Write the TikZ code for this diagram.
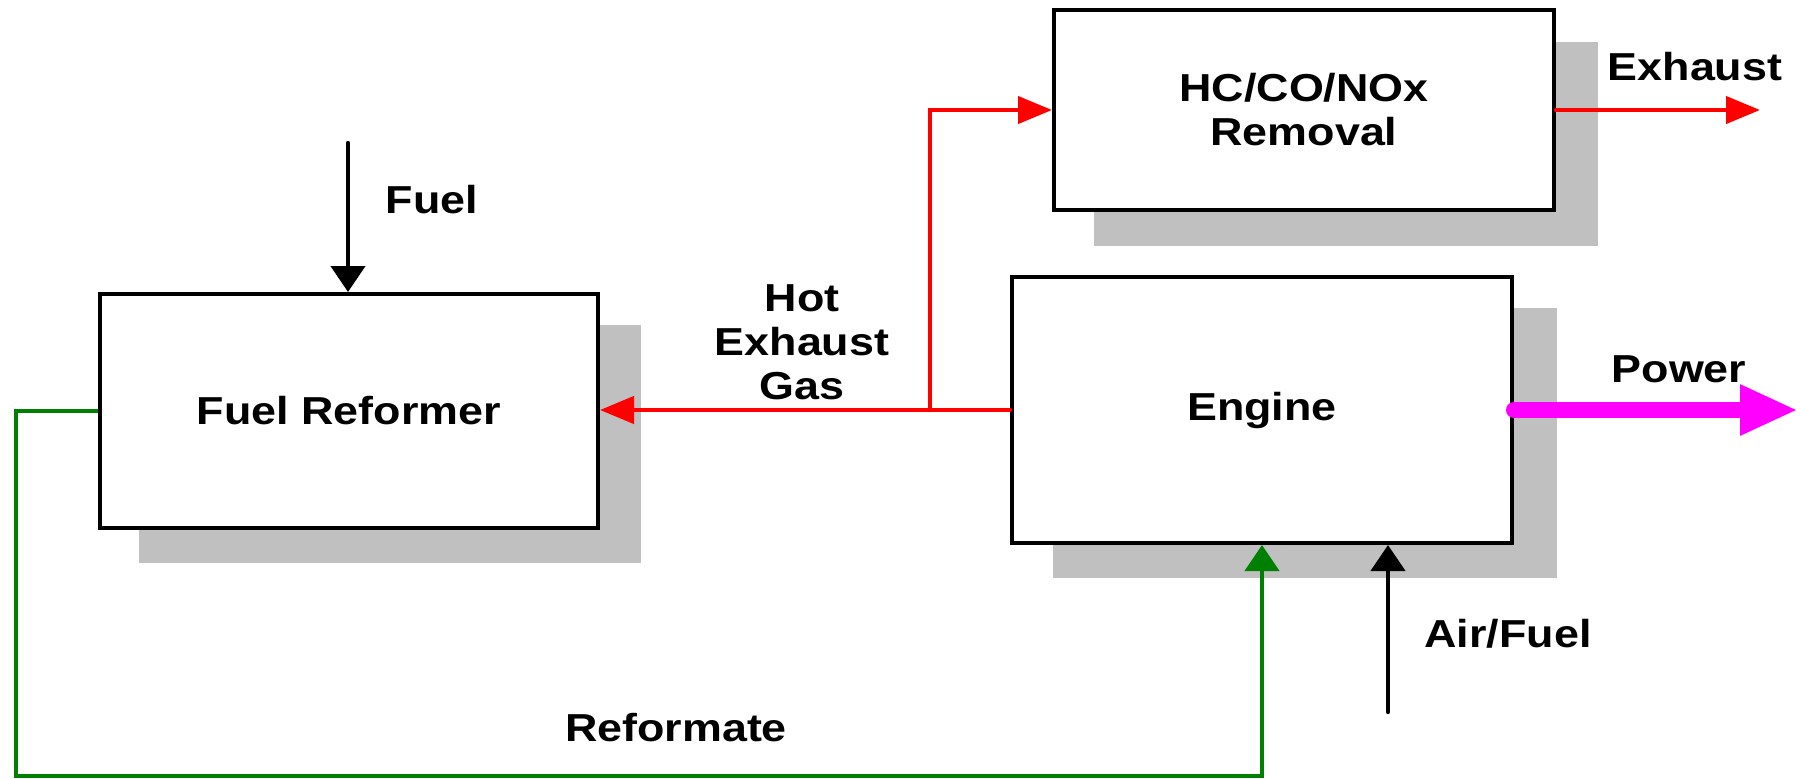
\documentclass[tikz,border=0pt]{standalone}
\usepackage{fontspec}
\setmainfont{Liberation Sans}[FakeStretch=1.15]
\usetikzlibrary{arrows.meta,backgrounds,calc}
\definecolor{shadowgray}{HTML}{C0C0C0}
\definecolor{flowred}{HTML}{FF0000}
\definecolor{flowgreen}{HTML}{008000}
\definecolor{flowmag}{HTML}{FF00FF}
\begin{document}
\begin{tikzpicture}[x=0.5pt,y=-0.5pt,
  font=\fontsize{19.5pt}{22pt}\selectfont\bfseries,
  block/.style={draw=black,line width=2pt,fill=white,inner sep=0pt,align=center},
  lbl/.style={inner sep=0pt,align=center},
  hflow/.style={line width=2.2pt,line cap=round,-{Triangle[length=17pt,width=13.5pt]}},
  vflow/.style={line width=2.2pt,line cap=round,-{Triangle[length=13pt,width=17pt]}}]
\useasboundingbox (0,0) rectangle (1800,778);

% blocks
\node[block,minimum width=249pt,minimum height=117pt] (fr) at (349,411) {Fuel Reformer};
\node[block,minimum width=250pt,minimum height=133pt] (eng) at (1262,410) {Engine};
\node[block,minimum width=250pt,minimum height=100pt] (hc) at (1304,110) {HC/CO/NOx\\Removal};

% shadows
\begin{scope}[on background layer]
  \fill[shadowgray] ($(fr.south west)+(41,33)$) rectangle ($(fr.north east)+(41,33)$);
  \fill[shadowgray] ($(eng.south west)+(43,33)$) rectangle ($(eng.north east)+(43,33)$);
  \fill[shadowgray] ($(hc.south west)+(42,34)$) rectangle ($(hc.north east)+(42,34)$);
\end{scope}

% labels
\node[lbl,anchor=base] (lfuel) at (432,213) {Fuel};
\node[lbl] (lhot) at (802,342) {Hot\\Exhaust\\Gas};
\node[lbl,anchor=base] (lexh) at (1695,80) {Exhaust};
\node[lbl,anchor=base] (lpow) at (1679,382) {Power};
\node[lbl,anchor=base] (lair) at (1508,647) {Air/Fuel};
\node[lbl,anchor=base] (lref) at (676,741) {Reformate};

% coordinates
\coordinate (fueltop) at (348,143);
\coordinate (br) at (930,410);
\coordinate (exhend) at (1760,110);
\coordinate (powend) at (1798,410);
\coordinate (gl) at (16,410);
\coordinate (gb) at (16,776);
\coordinate (af) at (1388,712);

% connectors
\draw[vflow,black] (fueltop) -- (fueltop |- fr.north);
\draw[hflow,flowred] (eng.west) -- (eng.west -| fr.east);
\draw[hflow,flowred] (br) |- (hc.west);
\draw[hflow,flowred] (hc.east) -- (exhend);
\draw[line width=8pt,line cap=round,flowmag,-{Triangle[length=29pt,width=23.5pt]}] (eng.east) -- (powend);
\draw[vflow,flowgreen,line cap=butt] (fr.west) -- (fr.west -| gl) -- (gb) -| (eng.south);
\draw[vflow,black] (af) -- (af |- eng.south);
\end{tikzpicture}
\end{document}
